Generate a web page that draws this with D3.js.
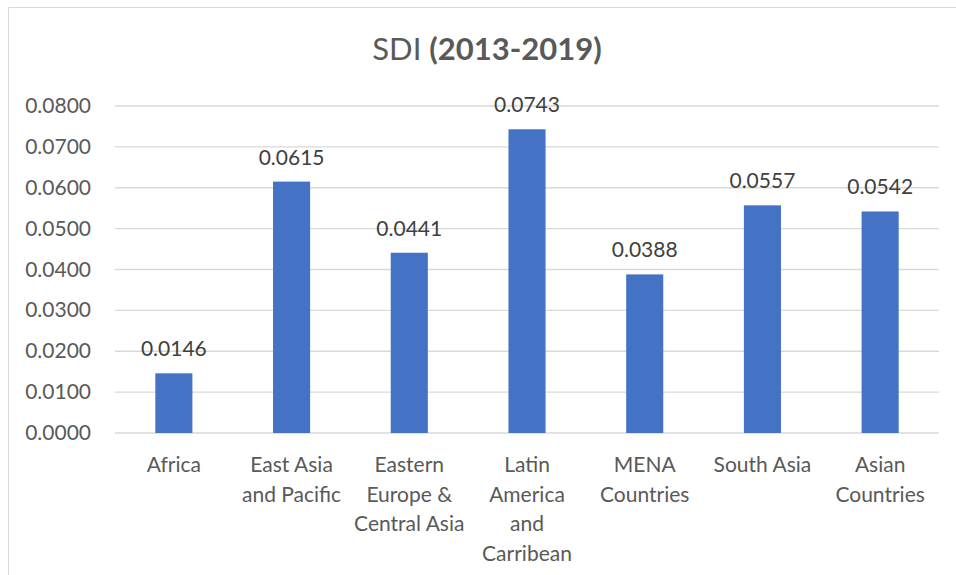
<!DOCTYPE html>
<html>
<head>
<meta charset="utf-8">
<script src="https://cdn.jsdelivr.net/npm/d3@7"></script>
<style>
  html, body { margin: 0; padding: 0; background: #fff; overflow: hidden; }
  svg { display: block; }
  text { font-family: Lato, "Open Sans", sans-serif; }
</style>
</head>
<body>
<svg width="956" height="575"></svg>
<script>
"use strict";

// data
const categories = [
  "Africa",
  "East Asia and Pacific",
  "Eastern Europe & Central Asia",
  "Latin America and Carribean",
  "MENA Countries",
  "South Asia",
  "Asian Countries"
];
const categoryLines = [
  ["Africa"],
  ["East Asia", "and Pacific"],
  ["Eastern", "Europe &", "Central Asia"],
  ["Latin", "America", "and", "Carribean"],
  ["MENA", "Countries"],
  ["South Asia"],
  ["Asian", "Countries"]
];
const values = [0.0146, 0.0615, 0.0441, 0.0743, 0.0388, 0.0557, 0.0542];
const yTicks = [0, 0.01, 0.02, 0.03, 0.04, 0.05, 0.06, 0.07, 0.08];

const svg = d3.select("svg");
const width = +svg.attr("width");
const height = +svg.attr("height");

const margin = { top: 106, right: 17, bottom: 142, left: 115 };
const innerWidth = width - margin.left - margin.right;
const innerHeight = height - margin.top - margin.bottom;

// chart border: only the top and left edges show in the crop
svg.append("path")
  .attr("d", `M8.5,${height}V7.5H${width}`)
  .attr("fill", "none")
  .attr("stroke", "#d9d9d9");

const title = svg.append("text")
  .attr("x", 487)
  .attr("y", 60)
  .attr("text-anchor", "middle")
  .attr("fill", "#595959")
  .style("font-size", "31px");
title.append("tspan").text("SDI ");
title.append("tspan").attr("font-weight", "bold").text("(2013-2019)");

const xScale = d3.scaleBand()
  .domain(categories)
  .range([0, innerWidth])
  .paddingInner(0.685)
  .paddingOuter(0.685 / 2);

const yScale = d3.scaleLinear()
  .domain([0, 0.08])
  .range([innerHeight, 0]);

const g = svg.append("g")
  .attr("transform", `translate(${margin.left},${margin.top})`);

// gridlines
g.selectAll(".grid")
  .data(yTicks)
  .enter()
  .append("line")
  .attr("class", "grid")
  .attr("x1", 0)
  .attr("x2", innerWidth)
  .attr("y1", d => yScale(d))
  .attr("y2", d => yScale(d))
  .attr("stroke", "#d9d9d9")
  .attr("stroke-width", 1.3);

// y tick labels
g.selectAll(".ytick")
  .data(yTicks)
  .enter()
  .append("text")
  .attr("class", "ytick")
  .attr("x", -24)
  .attr("y", d => yScale(d) + 7)
  .attr("text-anchor", "end")
  .attr("fill", "#595959")
  .style("font-size", "21px")
  .text(d3.format(".4f"));

g.selectAll(".bar")
  .data(values)
  .enter()
  .append("rect")
  .attr("class", "bar")
  .attr("x", (d, i) => xScale(categories[i]))
  .attr("y", d => yScale(d))
  .attr("width", xScale.bandwidth())
  .attr("height", d => innerHeight - yScale(d))
  .attr("fill", "#4472c4");

g.selectAll(".value")
  .data(values)
  .enter()
  .append("text")
  .attr("class", "value")
  .attr("x", (d, i) => xScale(categories[i]) + xScale.bandwidth() / 2)
  .attr("y", d => yScale(d) - 17)
  .attr("text-anchor", "middle")
  .attr("fill", "#404040")
  .style("font-size", "21px")
  .text(d => d3.format(".4f")(d));

// category labels, one text per line
categories.forEach((c, i) => {
  const cx = xScale(c) + xScale.bandwidth() / 2;
  categoryLines[i].forEach((line, j) => {
    g.append("text")
      .attr("x", cx)
      .attr("y", innerHeight + 39 + j * 29.5)
      .attr("text-anchor", "middle")
      .attr("fill", "#595959")
      .style("font-size", "21px")
      .text(line);
  });
});
</script>
</body>
</html>
